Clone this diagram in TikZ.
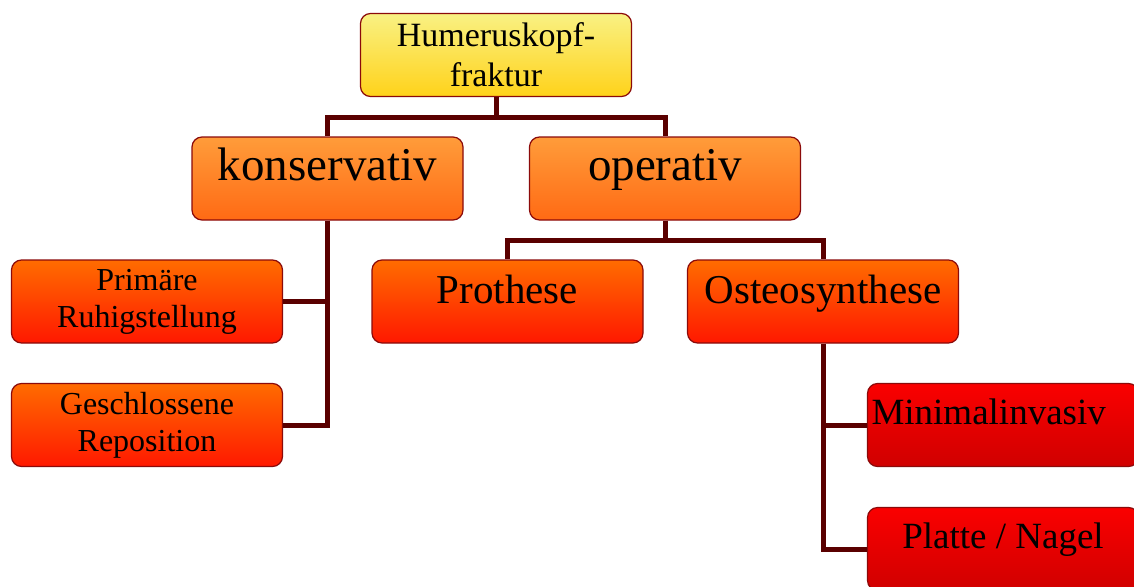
\documentclass[tikz,border=0pt]{standalone}
\usepackage{fontspec}
\setmainfont{Liberation Serif}
\usetikzlibrary{positioning}

\definecolor{rahmen}{HTML}{8B0A0A}
\definecolor{ast}{HTML}{5A0000}
\definecolor{gelbO}{HTML}{F9F183}
\definecolor{gelbU}{HTML}{FFD21A}
\definecolor{orangeO}{HTML}{FF9C3A}
\definecolor{orangeU}{HTML}{FF6A14}
\definecolor{rotorO}{HTML}{FF6C00}
\definecolor{rotorU}{HTML}{FF1800}
\definecolor{rotO}{HTML}{FA0000}
\definecolor{rotU}{HTML}{D00000}

\begin{document}
\begin{tikzpicture}[x=1pt,y=-1pt,node distance=120pt,on grid,
  box/.style={draw=rahmen,line width=1.2pt,rounded corners=10pt,minimum width=271pt,
    minimum height=83pt,inner sep=3pt,align=center},
  wurzel/.style={box,top color=gelbO,bottom color=gelbU,font=\fontsize{34}{40}\selectfont},
  zweig/.style={box,top color=orangeO,bottom color=orangeU,font=\fontsize{47}{54}\selectfont,
    text height=0.65em,text depth=0.28em},
  blatt/.style={box,top color=rotorO,bottom color=rotorU},
  spitze/.style={box,top color=rotO,bottom color=rotU,font=\fontsize{37}{42}\selectfont,
    text height=0.7em,text depth=0.85em},
  verbind/.style={draw=ast,line width=5pt}]
  \useasboundingbox (0,0) rectangle (1134,586);

  \node[wurzel] (fraktur) at (496,55) {Humeruskopf-\\fraktur};
  \node[zweig]  (konservativ) [below left=123.5pt and 168.5pt of fraktur] {konservativ};
  \node[zweig]  (operativ)    [right=337.5pt of konservativ]               {operativ};
  \node[blatt,font=\fontsize{32}{37}\selectfont] (primaer) [below left=123pt and 180.5pt of konservativ] {Primäre\\Ruhigstellung};
  \node[blatt,font=\fontsize{32}{37}\selectfont] (geschlossen) [below=123.5pt of primaer] {Geschlossene\\Reposition};
  \node[blatt,font=\fontsize{41}{48}\selectfont,text height=0.65em,text depth=0.35em] (prothese) [below left=123pt and 157.5pt of operativ] {Prothese};
  \node[blatt,font=\fontsize{41}{48}\selectfont,text height=0.65em,text depth=0.35em] (osteo) [right=315.5pt of prothese] {Osteosynthese};
  \node[spitze,align=left,text width=263pt] (minimal) [below right=123.5pt and 180pt of osteo] {Minimalinvasiv};
  \node[spitze] (platte) [below=124pt of minimal] {Platte / Nagel};

  \draw[verbind] (fraktur.south) -- ++(0,20) -| (konservativ.north);
  \draw[verbind] (fraktur.south) -- ++(0,20) -| (operativ.north);
  \draw[verbind] (operativ.south) -- ++(0,20) -| (prothese.north);
  \draw[verbind] (operativ.south) -- ++(0,20) -| (osteo.north);
  \draw[verbind] (konservativ.south) |- (primaer.east);
  \draw[verbind] (konservativ.south) |- (geschlossen.east);
  \draw[verbind] (osteo.south) |- (minimal.west);
  \draw[verbind] (osteo.south) |- (platte.west);
\end{tikzpicture}
\end{document}
